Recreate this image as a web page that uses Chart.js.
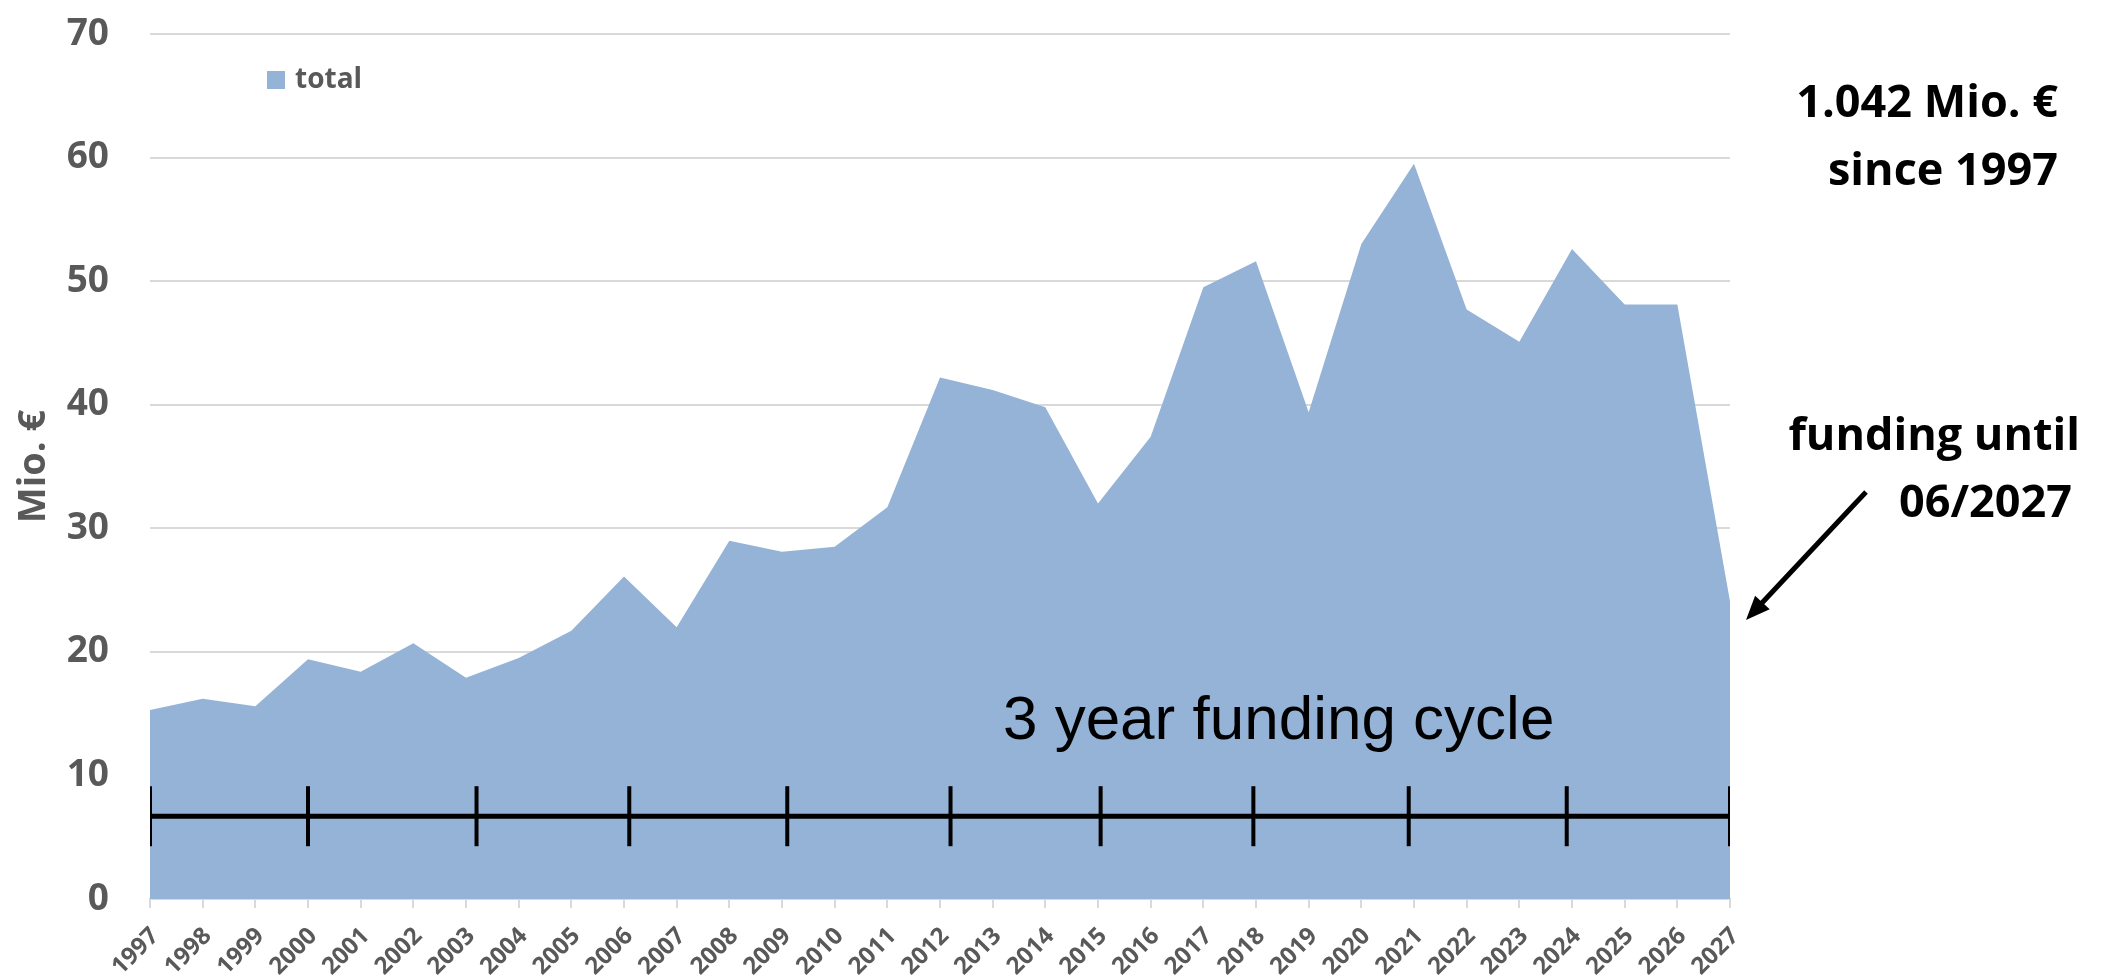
<!DOCTYPE html>
<html>
<head>
<meta charset="utf-8">
<script src="https://cdn.jsdelivr.net/npm/chart.js@4.4.1/dist/chart.umd.min.js"></script>
<style>
  html, body { margin: 0; padding: 0; background: #fff; }
  #wrap { width: 2113px; height: 980px; position: relative; }
</style>
</head>
<body>
<div id="wrap"><canvas id="chart"></canvas></div>
<script>
// Data
const years = [1997, 1998, 1999, 2000, 2001, 2002, 2003, 2004, 2005, 2006, 2007, 2008, 2009, 2010, 2011, 2012,
               2013, 2014, 2015, 2016, 2017, 2018, 2019, 2020, 2021, 2022, 2023, 2024, 2025, 2026, 2027];
const totals = [15.3, 16.2, 15.6, 19.4, 18.4, 20.7, 17.9, 19.5, 21.7, 26.1, 22.0, 29.0, 28.1, 28.5, 31.7, 42.2,
                41.2, 39.8, 32.0, 37.4, 49.5, 51.6, 39.4, 53.0, 59.5, 47.7, 45.1, 52.6, 48.1, 48.1, 24.1];
// 3 year funding cycle marks
const cycleYears = [1997, 2000, 2003.2, 2006.1, 2009.1, 2012.2, 2015.05, 2017.95, 2020.9, 2023.9, 2027];
const cycleLevel = 6.7;
const yTicks = [0, 10, 20, 30, 40, 50, 60, 70];

const fillColor = 'rgb(149, 179, 215)';
const gray = '#595959';
const gridColor = '#d9d9d9';

// Legend + annotations drawn on top
const annotations = {
    id: 'annotations',
    afterDraw(chart) {
        const ctx = chart.ctx;
        const area = chart.chartArea;
        const x = chart.scales.x;
        const y = chart.scales.y;
        ctx.save();

        // legend
        ctx.fillStyle = fillColor;
        ctx.fillRect(area.left + 117, area.top + 37, 18, 18);
        ctx.fillStyle = gray;
        ctx.font = 'bold 28px "Open Sans"';
        ctx.textBaseline = 'middle';
        ctx.textAlign = 'left';
        ctx.fillText(chart.data.datasets[0].label, area.left + 145, area.top + 46);

        // cycle caption
        ctx.fillStyle = '#000';
        ctx.font = '62px "Liberation Sans"';
        ctx.textAlign = 'center';
        ctx.textBaseline = 'alphabetic';
        ctx.fillText('3 year funding cycle', x.getPixelForValue(2018.43), y.getPixelForValue(12.97));

        // right side notes
        ctx.font = 'bold 45px "Open Sans"';
        ctx.textAlign = 'right';
        ctx.fillText('1.042 Mio. €', 2058, 117);
        ctx.fillText('since 1997', 2058, 185);
        ctx.fillText('funding until', 2080, 450);
        ctx.fillText('06/2027', 2072, 517);

        // arrow
        const x0 = 1866, y0 = 492, x1 = 1746, y1 = 620;
        const ang = Math.atan2(y1 - y0, x1 - x0);
        ctx.strokeStyle = '#000';
        ctx.lineWidth = 5;
        ctx.beginPath();
        ctx.moveTo(x0, y0);
        ctx.lineTo(x1 - 14 * Math.cos(ang), y1 - 14 * Math.sin(ang));
        ctx.stroke();
        ctx.beginPath();
        ctx.moveTo(x1, y1);
        ctx.lineTo(x1 - 24 * Math.cos(ang) + 10 * Math.sin(ang), y1 - 24 * Math.sin(ang) - 10 * Math.cos(ang));
        ctx.lineTo(x1 - 24 * Math.cos(ang) - 10 * Math.sin(ang), y1 - 24 * Math.sin(ang) + 10 * Math.cos(ang));
        ctx.closePath();
        ctx.fillStyle = '#000';
        ctx.fill();

        ctx.restore();
    }
};

const ctx = document.getElementById('chart').getContext('2d');
new Chart(ctx, {
    type: 'line',
    data: {
        datasets: [
            {
                label: 'total',
                data: years.map((yr, i) => ({ x: yr, y: totals[i] })),
                backgroundColor: fillColor,
                borderWidth: 0,
                pointRadius: 0,
                fill: 'origin',
                tension: 0,
                order: 2
            },
            {
                label: 'cycle',
                data: [{ x: years[0], y: cycleLevel }, { x: years[years.length - 1], y: cycleLevel }],
                borderColor: '#000',
                borderWidth: 5,
                pointRadius: 0,
                fill: false,
                order: 1
            },
            {
                label: 'cycle marks',
                data: cycleYears.map(yr => ({ x: yr, y: cycleLevel })),
                showLine: false,
                pointStyle: 'line',
                rotation: 90,
                pointRadius: 30,
                borderColor: '#000',
                borderWidth: 4,
                order: 0
            }
        ]
    },
    options: {
        responsive: true,
        maintainAspectRatio: false,
        animation: false,
        layout: {
            padding: { left: 0, right: 383, top: 25, bottom: 0 }
        },
        plugins: {
            legend: { display: false },
            tooltip: { enabled: false }
        },
        scales: {
            x: {
                type: 'linear',
                min: years[0],
                max: years[years.length - 1],
                afterFit: scale => { scale.height = 81; },
                afterBuildTicks: scale => { scale.ticks = years.map(v => ({ value: v })); },
                ticks: {
                    autoSkip: false,
                    minRotation: 45,
                    maxRotation: 45,
                    padding: 14,
                    labelOffset: 5,
                    color: gray,
                    font: { family: 'Open Sans', weight: 'bold', size: 24 },
                    callback: v => String(v)
                },
                grid: {
                    drawOnChartArea: false,
                    drawTicks: true,
                    tickLength: 9,
                    color: gridColor,
                    lineWidth: 2
                },
                border: { display: true, color: gridColor, width: 2 }
            },
            y: {
                min: 0,
                max: 70,
                afterFit: scale => { scale.width = 150; },
                afterBuildTicks: scale => { scale.ticks = yTicks.map(v => ({ value: v })); },
                ticks: {
                    padding: 0,
                    color: gray,
                    font: { family: 'Open Sans', weight: 'bold', size: 37 }
                },
                grid: {
                    color: gridColor,
                    lineWidth: 2,
                    drawTicks: true,
                    tickLength: 41,
                    tickColor: 'rgba(0,0,0,0)'
                },
                border: { display: false },
                title: {
                    display: true,
                    text: 'Mio. €',
                    color: gray,
                    font: { family: 'Open Sans', weight: 'bold', size: 38 },
                    padding: { top: 11, bottom: 0 }
                }
            }
        }
    },
    plugins: [annotations]
});
</script>
</body>
</html>
